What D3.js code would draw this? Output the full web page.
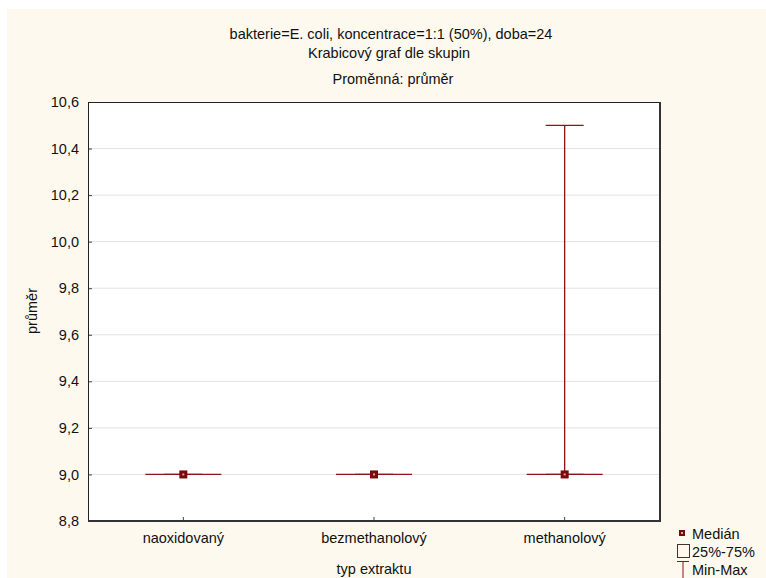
<!DOCTYPE html>
<html>
<head>
<meta charset="utf-8">
<script src="https://cdn.jsdelivr.net/npm/d3@7/dist/d3.min.js"></script>
<style>
  html, body { margin: 0; padding: 0; background: #ffffff; }
  svg { display: block; }
  text { font-family: "Liberation Sans", Arial, sans-serif; fill: #111; }
</style>
</head>
<body>
<svg id="chart" width="766" height="578"></svg>
<script>
// Box plot summary per extract type (variable: průměr)
const categories = ["naoxidovaný", "bezmethanolový", "methanolový"];
const minValues    = [9.0, 9.0, 9.0];
const q1Values     = [9.0, 9.0, 9.0];
const medianValues = [9.0, 9.0, 9.0];
const q3Values     = [9.0, 9.0, 9.0];
const maxValues    = [9.0, 9.0, 10.5];
const yTicks = [8.8, 9.0, 9.2, 9.4, 9.6, 9.8, 10.0, 10.2, 10.4, 10.6];

const titleLines = ["bakterie=E. coli, koncentrace=1:1 (50%), doba=24", "Krabicový graf dle skupin"];
const subTitle = "Proměnná: průměr";

const W = 766, H = 578;
const plot = { left: 88, top: 102, right: 660, bottom: 521 };
const markColor = "#8b1518";
const FS = "14.5px";

const svg = d3.select("#chart");

// cream page background inside a thin white margin
svg.append("rect").attr("x", 7).attr("y", 9).attr("width", W - 7).attr("height", H - 9).attr("fill", "#fdf9ef");

const x = d3.scaleBand().domain(categories).range([plot.left, plot.right]);
const y = d3.scaleLinear().domain([8.8, 10.6]).range([plot.bottom, plot.top]);

// plot area
svg.append("rect")
  .attr("x", plot.left).attr("y", plot.top)
  .attr("width", plot.right - plot.left).attr("height", plot.bottom - plot.top)
  .attr("fill", "#ffffff");

// horizontal gridlines
svg.append("g").selectAll("line")
  .data(yTicks.slice(1, -1))
  .join("line")
  .attr("x1", plot.left).attr("x2", plot.right)
  .attr("y1", d => y(d)).attr("y2", d => y(d))
  .attr("stroke", "#e2e2e2").attr("stroke-width", 1);

const fmt = d => d3.format(".1f")(d).replace(".", ",");

// y axis
const yAxis = svg.append("g")
  .attr("transform", `translate(${plot.left},0)`)
  .call(d3.axisLeft(y).tickValues(yTicks).tickFormat(fmt).tickSizeInner(-4).tickSizeOuter(0).tickPadding(9));
yAxis.select(".domain").remove();
yAxis.selectAll(".tick line").attr("stroke", "#444");
yAxis.selectAll(".tick text")
  .style("font-family", '"Liberation Sans", Arial, sans-serif')
  .style("font-size", FS).attr("fill", "#111");

// x axis
const xAxis = svg.append("g")
  .attr("transform", `translate(0,${plot.bottom})`)
  .call(d3.axisBottom(x).tickSizeInner(-4).tickSizeOuter(0).tickPadding(12));
xAxis.select(".domain").remove();
xAxis.selectAll(".tick line").attr("stroke", "#444");
xAxis.selectAll(".tick text")
  .style("font-family", '"Liberation Sans", Arial, sans-serif')
  .style("font-size", FS).attr("fill", "#111");

// frame: thin top/left, heavier right/bottom
svg.append("line").attr("x1", plot.left).attr("x2", plot.right).attr("y1", plot.top + 0.5).attr("y2", plot.top + 0.5).attr("stroke", "#222");
svg.append("line").attr("x1", plot.left + 0.5).attr("x2", plot.left + 0.5).attr("y1", plot.top).attr("y2", plot.bottom).attr("stroke", "#222");
svg.append("line").attr("x1", plot.right).attr("x2", plot.right).attr("y1", plot.top).attr("y2", plot.bottom + 1).attr("stroke", "#333").attr("stroke-width", 2);
svg.append("line").attr("x1", plot.left).attr("x2", plot.right + 1).attr("y1", plot.bottom).attr("y2", plot.bottom).attr("stroke", "#333").attr("stroke-width", 2);

// boxes
const boxW = 76, capW = 38;
const groups = svg.append("g").selectAll("g")
  .data(categories.map((c, i) => ({ c, min: minValues[i], q1: q1Values[i], med: medianValues[i], q3: q3Values[i], max: maxValues[i] })))
  .join("g")
  .attr("transform", d => `translate(${x(d.c) + x.bandwidth() / 2},0)`);

// whiskers with caps
groups.append("path")
  .attr("d", d => `M0,${y(d.q3)}V${y(d.max)}M${-capW / 2},${y(d.max)}H${capW / 2}` +
                  `M0,${y(d.q1)}V${y(d.min)}M${-capW / 2},${y(d.min)}H${capW / 2}`)
  .attr("fill", "none").attr("stroke", markColor).attr("stroke-width", 1.3);

// 25%-75% box (drawn as a path so a collapsed box still shows as a line)
groups.append("path")
  .attr("d", d => `M${-boxW / 2},${y(d.q3)}H${boxW / 2}V${y(d.q1)}H${-boxW / 2}Z`)
  .attr("fill", "none").attr("stroke", markColor).attr("stroke-width", 1.3);

// median marker
groups.append("rect")
  .attr("x", -4).attr("y", d => y(d.med) - 4)
  .attr("width", 8).attr("height", 8)
  .attr("fill", "#7a0a0a");
groups.append("rect")
  .attr("x", -1).attr("y", d => y(d.med) - 1)
  .attr("width", 2).attr("height", 2)
  .attr("fill", "#d9a0a0");

// titles
svg.append("text").attr("x", 391).attr("y", 39).attr("text-anchor", "middle").style("font-size", FS).text(titleLines[0]);
svg.append("text").attr("x", 389).attr("y", 58).attr("text-anchor", "middle").style("font-size", FS).text(titleLines[1]);
svg.append("text").attr("x", 393).attr("y", 84).attr("text-anchor", "middle").style("font-size", FS).text(subTitle);

// axis titles
svg.append("text").attr("x", (plot.left + plot.right) / 2).attr("y", 574).attr("text-anchor", "middle").style("font-size", FS).text("typ extraktu");
svg.append("text").attr("transform", "translate(37,311) rotate(-90)").attr("text-anchor", "middle").style("font-size", FS).text("průměr");

// legend
const lg = svg.append("g").attr("transform", "translate(676,0)");
lg.append("rect").attr("x", 3).attr("y", 530).attr("width", 6).attr("height", 6).attr("fill", "#7a0a0a");
lg.append("rect").attr("x", 5).attr("y", 532).attr("width", 2).attr("height", 2).attr("fill", "#d9a0a0");
lg.append("text").attr("x", 16).attr("y", 539).style("font-size", FS).text("Medián");
lg.append("rect").attr("x", 1.5).attr("y", 544.5).attr("width", 12).attr("height", 13)
  .attr("fill", "none").attr("stroke", "#4a3030").attr("stroke-width", 1);
lg.append("text").attr("x", 16).attr("y", 557).style("font-size", FS).text("25%-75%");
lg.append("line").attr("x1", 1).attr("x2", 13).attr("y1", 561.5).attr("y2", 561.5).attr("stroke", markColor);
lg.append("line").attr("x1", 7).attr("x2", 7).attr("y1", 561.5).attr("y2", 578).attr("stroke", markColor);
lg.append("text").attr("x", 16).attr("y", 575).style("font-size", FS).text("Min-Max");
</script>
</body>
</html>
